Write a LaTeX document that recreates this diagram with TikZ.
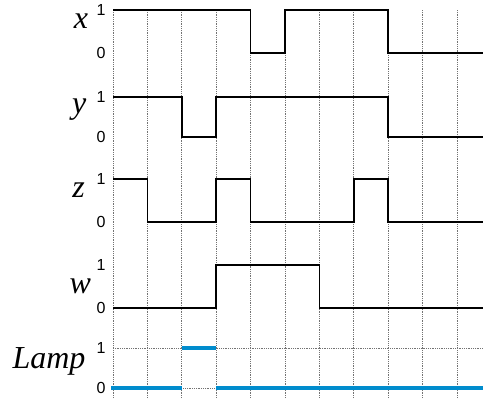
\documentclass[tikz,border=0pt]{standalone}
\usepackage{fontspec}
\setmainfont{Liberation Serif}
\newfontfamily\digitfont{Liberation Sans}
\usetikzlibrary{positioning}
\definecolor{lampblue}{RGB}{0,140,205}

\begin{document}
\begin{tikzpicture}[x=34.4pt,y=-1pt,
  grid/.style={black!55,densely dotted,line width=0.8pt},
  wave/.style={black,line width=1.6pt,line join=miter},
  lampwave/.style={lampblue,line width=4.5pt},
  signame/.style={font=\fontsize{32}{32}\selectfont\itshape},
  level/.style={font=\digitfont\fontsize{16}{16}\selectfont}]
\useasboundingbox (-3.285,0) rectangle (10.756,399);
% grid
\foreach \t in {0,...,10} \draw[grid] (\t,10) -- (\t,399);
\draw[grid] (0,348) -- (10.756,348);
\draw[grid] (0,388) -- (10.756,388);
% signal names
\node[signame] (xname) at (-0.93,21) {x};
\node[signame] (yname) at (-0.98,110) {y};
\node[signame] (zname) at (-1.0,190) {z};
\node[signame] (wname) at (-0.95,286) {w};
\node[signame] (lampname) at (-1.86,361) {Lamp};
% levels
\foreach \hi/\lo/\s in {10/53/x,97/137/y,179/222/z,265/308/w,348/388/lamp} {
  \node[level] (\s one) at (-0.35,\hi) {1};
  \node[level] (\s zero) at (-0.35,\lo) {0};
}
% waveforms
\draw[wave] (0,10) -- (4,10) -- (4,53) -- (5,53) -- (5,10) -- (8,10) -- (8,53) -- (10.756,53);
\draw[wave] (0,97) -- (2,97) -- (2,137) -- (3,137) -- (3,97) -- (8,97) -- (8,137) -- (10.756,137);
\draw[wave] (0,179) -- (1,179) -- (1,222) -- (3,222) -- (3,179) -- (4,179) -- (4,222) -- (7,222) -- (7,179) -- (8,179) -- (8,222) -- (10.756,222);
\draw[wave] (0,308) -- (3,308) -- (3,265) -- (6,265) -- (6,308) -- (10.756,308);
\draw[lampwave] (-0.05,388) -- (2,388);
\draw[lampwave] (2,348) -- (3,348);
\draw[lampwave] (3,388) -- (10.756,388);
\end{tikzpicture}
\end{document}
